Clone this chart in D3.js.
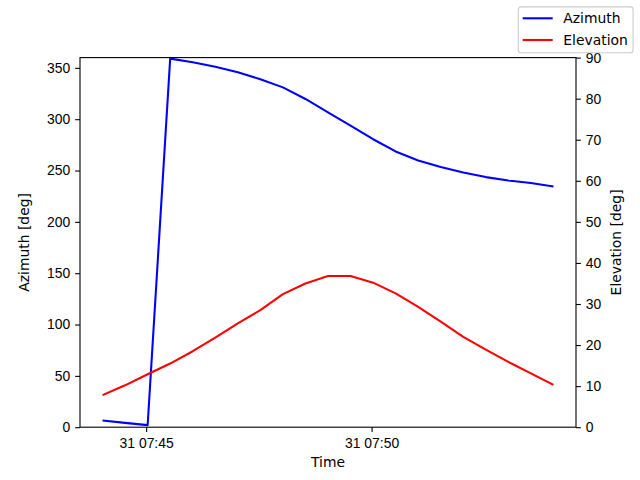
<!DOCTYPE html>
<html>
<head>
<meta charset="utf-8">
<script src="https://cdn.jsdelivr.net/npm/d3@7"></script>
<style>
  body { margin: 0; background: #fff; }
  svg { display: block; font-family: "DejaVu Sans", sans-serif; }
  .axis text { font-size: 13.9px; fill: #000; }
  .axis line { stroke: #000; stroke-width: 1.1px; }
  .axis path.domain { display: none; }
</style>
</head>
<body>
<script>
// sample times: every 30 s starting 31st 07:44:02 (UTC)
const startTime = Date.UTC(2023, 0, 31, 7, 44, 2);
const stepSec = 30;
const azimuth = [6.5, 4.2, 2.0, 359, 355.4, 351, 345.7, 339, 331, 319.7, 306.7,
                 293.7, 280.5, 268.6, 259.8, 253.4, 248.1, 243.6, 240.3, 237.8, 234.5];
const elevation = [7.8, 10.2, 12.9, 15.5, 18.5, 21.8, 25.3, 28.5, 32.4, 35.0, 36.8,
                   36.8, 35.2, 32.6, 29.3, 25.7, 22.0, 18.9, 15.9, 13.1, 10.3];
const times = azimuth.map((d, i) => new Date(startTime + i * stepSec * 1000));
const azTicks = [0, 50, 100, 150, 200, 250, 300, 350];
const elTicks = [0, 10, 20, 30, 40, 50, 60, 70, 80, 90];
const legendItems = [['Azimuth', '#0000ff'], ['Elevation', '#ff0000']];

const W = 640, H = 480;
const mLeft = 80, mRight = 576, mTop = 57.6, mBottom = 427.2;
const tick = 4.86;

const svg = d3.select('body').append('svg').attr('width', W).attr('height', H);

// x scale with matplotlib-like 5% margins
const tExt = d3.extent(times);
const span = tExt[1] - tExt[0];
const x = d3.scaleUtc()
  .domain([new Date(+tExt[0] - span * 0.05), new Date(+tExt[1] + span * 0.05)])
  .range([mLeft, mRight]);
const yAz = d3.scaleLinear().domain([0, 360]).range([mBottom, mTop]);
const yEl = d3.scaleLinear().domain([0, 90]).range([mBottom, mTop]);

svg.append('defs').append('clipPath').attr('id', 'clip')
  .append('rect').attr('x', mLeft).attr('y', mTop).attr('width', mRight - mLeft).attr('height', mBottom - mTop);

// axes
const xAxis = d3.axisBottom(x)
  .tickValues([new Date(Date.UTC(2023, 0, 31, 7, 45)), new Date(Date.UTC(2023, 0, 31, 7, 50))])
  .tickFormat(d3.utcFormat('%d %H:%M'))
  .tickSize(tick).tickPadding(tick);
svg.append('g').attr('class', 'axis').attr('transform', 'translate(0,' + mBottom + ')').call(xAxis)
  .selectAll('text').attr('dy', '0.78em');

svg.append('g').attr('class', 'axis').attr('transform', 'translate(' + mLeft + ',0)')
  .call(d3.axisLeft(yAz).tickValues(azTicks).tickSize(tick).tickPadding(tick));
svg.append('g').attr('class', 'axis').attr('transform', 'translate(' + mRight + ',0)')
  .call(d3.axisRight(yEl).tickValues(elTicks).tickSize(tick).tickPadding(tick));

// lines
const plot = svg.append('g').attr('clip-path', 'url(#clip)');
const azLine = d3.line().x((d, i) => x(times[i])).y(d => yAz(d));
const elLine = d3.line().x((d, i) => x(times[i])).y(d => yEl(d));
plot.append('path').datum(azimuth).attr('d', azLine)
  .attr('fill', 'none').attr('stroke', '#0000ff').attr('stroke-width', 2.08).attr('stroke-linejoin', 'round');
plot.append('path').datum(elevation).attr('d', elLine)
  .attr('fill', 'none').attr('stroke', '#ff0000').attr('stroke-width', 2.08).attr('stroke-linejoin', 'round');

// frame
svg.append('rect').attr('x', mLeft).attr('y', mTop).attr('width', mRight - mLeft).attr('height', mBottom - mTop)
  .attr('fill', 'none').attr('stroke', '#000').attr('stroke-width', 1.1);

// axis labels
svg.append('text').attr('x', (mLeft + mRight) / 2).attr('y', 467).attr('text-anchor', 'middle')
  .style('font-size', '13.9px').text('Time');
svg.append('text').attr('transform', 'translate(29,' + (mTop + mBottom) / 2 + ') rotate(-90)')
  .attr('text-anchor', 'middle').style('font-size', '13.9px').text('Azimuth [deg]');
svg.append('text').attr('transform', 'translate(621,' + (mTop + mBottom) / 2 + ') rotate(-90)')
  .attr('text-anchor', 'middle').style('font-size', '13.9px').text('Elevation [deg]');

// legend
const lg = svg.append('g');
lg.append('rect').attr('x', 518.3).attr('y', 6.9).attr('width', 633.1 - 518.3).attr('height', 45.8)
  .attr('rx', 2.8).attr('fill', '#fff').attr('fill-opacity', 0.8).attr('stroke', '#cccccc').attr('stroke-width', 1.1);
legendItems.forEach((it, i) => {
  const cy = 18.3 + i * 21.7;
  lg.append('line').attr('x1', 522.7).attr('x2', 552.7).attr('y1', cy).attr('y2', cy)
    .attr('stroke', it[1]).attr('stroke-width', 2.08);
  lg.append('text').attr('x', 563.3).attr('y', cy + 5).style('font-size', '13.9px').text(it[0]);
});
</script>
</body>
</html>
